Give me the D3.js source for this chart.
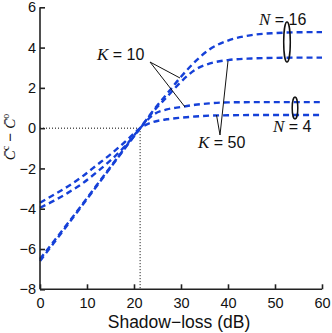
<!DOCTYPE html>
<html><head><meta charset="utf-8">
<script src="https://cdn.jsdelivr.net/npm/d3@7"></script>
<style>body{margin:0;background:#fff}svg{display:block}</style>
</head><body>
<svg id="c" width="332" height="333"></svg>
<script>
const xs = [0,3,6,9,12,15,18,21.3,24,27,30,33,36,40,45,50,55,60];
const n16k10 = [-6.5,-5.6,-4.7,-3.78,-2.85,-1.92,-1.0,0,0.85,1.7,2.55,3.3,3.9,4.35,4.62,4.72,4.76,4.77];
const n16k50 = [-6.6,-5.68,-4.76,-3.83,-2.9,-1.96,-1.02,0,0.8,1.55,2.3,2.9,3.2,3.38,3.46,3.49,3.5,3.5];
const n4k10  = [-3.95,-3.6,-3.2,-2.75,-2.2,-1.6,-0.92,0,0.65,0.93,1.05,1.16,1.23,1.28,1.29,1.29,1.29,1.29];
const n4k50  = [-3.7,-3.3,-2.88,-2.4,-1.85,-1.3,-0.7,0,0.3,0.44,0.52,0.58,0.62,0.64,0.65,0.65,0.65,0.65];
const series = [n16k10, n16k50, n4k10, n4k50];
const xTicks = [0,10,20,30,40,50,60];
const yTicks = [-8,-6,-4,-2,0,2,4,6];
const crossX = 21.3;

const svg = d3.select("#c");
const x = d3.scaleLinear().domain([0,60]).range([40,322]);
const y = d3.scaleLinear().domain([-8,6]).range([289.3,7.3]);
const axisColor = "#222";

// dotted guides
svg.append("line").attr("x1",x(0)).attr("x2",x(crossX)).attr("y1",y(0)).attr("y2",y(0))
  .attr("stroke","#000").attr("stroke-width",1).attr("stroke-dasharray","1,2");
svg.append("line").attr("x1",x(crossX)).attr("x2",x(crossX)).attr("y1",y(0)).attr("y2",y(-8))
  .attr("stroke","#000").attr("stroke-width",1).attr("stroke-dasharray","1,2");

// curves
const line = d3.line().x((d,i)=>x(xs[i])).y(d=>y(d)).curve(d3.curveMonotoneX);
series.forEach(s=>{
  svg.append("path").attr("d",line(s)).attr("fill","none")
    .attr("stroke","#1540d8").attr("stroke-width",2.4).attr("stroke-dasharray","6,4");
});

// axes
const xa = svg.append("g").attr("transform",`translate(0,${y(-8)})`)
  .call(d3.axisBottom(x).tickValues(xTicks).tickSize(-5).tickPadding(8).tickFormat(d3.format("d")));
const ya = svg.append("g").attr("transform",`translate(${x(0)},0)`)
  .call(d3.axisLeft(y).tickValues(yTicks).tickSize(-5).tickPadding(4).tickFormat(d=>d<0?"\u2212"+Math.abs(d):d));
[xa,ya].forEach(a=>{
  a.select(".domain").attr("stroke",axisColor).attr("stroke-width",1.6);
  a.selectAll(".tick line").attr("stroke",axisColor).attr("stroke-width",1.6);
  a.selectAll(".tick text").attr("fill","#111").style("font-family","'Liberation Sans',Arial,sans-serif").style("font-size","14.5px");
});
ya.select(".domain").attr("d",`M0,${y(6)}V${y(-8)}`);
xa.select(".domain").attr("d",`M${x(0)},0H${x(60)}`);

// axis titles
svg.append("text").attr("x",179).attr("y",328).attr("text-anchor","middle")
  .style("font-family","'Liberation Sans',Arial,sans-serif").style("font-size","17.5px").attr("fill","#111")
  .text("Shadow\u2212loss (dB)");
const yl = svg.append("text").attr("transform","translate(15,137) rotate(-90)").attr("text-anchor","middle")
  .style("font-size","15px").attr("fill","#111");
yl.append("tspan").style("font-family","'Liberation Serif',serif").style("font-style","italic").text("C\u0304");
yl.append("tspan").style("font-family","'Liberation Serif',serif").style("font-size","10px").attr("dy",-6).text("c");
yl.append("tspan").style("font-family","'Liberation Sans',sans-serif").attr("dy",6).text(" \u2212 ");
yl.append("tspan").style("font-family","'Liberation Serif',serif").style("font-style","italic").text("C\u0304");
yl.append("tspan").style("font-family","'Liberation Serif',serif").style("font-size","10px").attr("dy",-6).text("o");

// annotations
function label(xp, yp, letter, rest){
  const t = svg.append("text").attr("x",xp).attr("y",yp).attr("fill","#111").style("font-size","16px");
  t.append("tspan").style("font-family","'Liberation Serif',serif").style("font-style","italic").style("font-size","17px").text(letter);
  t.append("tspan").style("font-family","'Liberation Sans',Arial,sans-serif").text(rest);
}
label(259,25,"N"," = 16");
label(273,132,"N"," = 4");
label(97,60,"K"," = 10");
label(198,148,"K"," = 50");

const ann = svg.append("g").attr("stroke","#111").attr("stroke-width",1).attr("fill","none");
ann.append("line").attr("x1",150).attr("y1",62).attr("x2",180).attr("y2",78);
ann.append("line").attr("x1",150).attr("y1",62).attr("x2",185).attr("y2",107);
ann.append("line").attr("x1",220).attr("y1",135).attr("x2",228).attr("y2",61);
ann.append("line").attr("x1",220).attr("y1",135).attr("x2",216.5).attr("y2",115);
ann.append("ellipse").attr("cx",287).attr("cy",42).attr("rx",3.3).attr("ry",20).attr("stroke-width",1.5);
ann.append("ellipse").attr("cx",295).attr("cy",108).attr("rx",2.8).attr("ry",11).attr("stroke-width",1.5);
</script>
</body></html>
